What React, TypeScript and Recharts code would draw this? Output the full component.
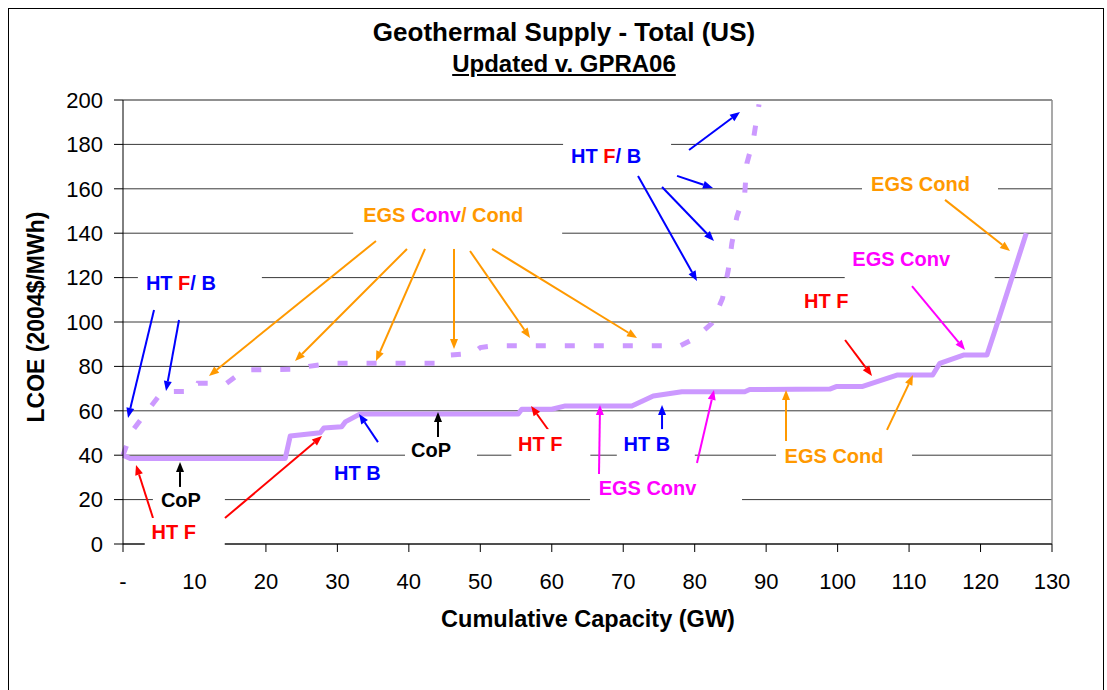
import React from 'react';
import {
  CartesianGrid,
  Line,
  LineChart,
  ReferenceDot,
  ReferenceLine,
  XAxis,
  YAxis,
} from 'recharts';

// Updated supply curve (solid)
const updatedCapacity = [0, 1, 22.7, 23.4, 27.6, 28.1, 30.6, 31.1, 33.2, 55.3, 55.8, 60.0, 61.9, 71.2, 74.2, 78.2, 87.0, 87.7, 98.9, 99.8, 103.4, 108.3, 113.3, 114.3, 117.6, 120.9, 121.9, 126.4];
const updatedLcoe = [40, 38.5, 38.5, 48.6, 50.1, 52.2, 52.8, 55, 58.6, 58.6, 60.7, 60.7, 62.2, 62.2, 66.7, 68.6, 68.6, 69.6, 69.8, 70.9, 70.9, 76.1, 76.1, 81.4, 85.1, 85.1, 94.9, 140];

// GPRA06 supply curve (dashed)
const gpraCapacity = [0, 1.2, 3.8, 5.5, 10, 10.5, 14.5, 17, 25, 26, 29, 44, 45.5, 49, 50, 52, 78, 80, 82.4, 83.9, 84.7, 85.2, 85.9, 87.0, 87.3, 88.2, 89.0];
const gpraLcoe = [40, 50.5, 61.6, 68.6, 68.8, 72.4, 72.4, 78.4, 78.8, 80, 81.4, 81.4, 85, 86, 88.5, 89.3, 89.3, 92.6, 99.4, 110.7, 123.4, 135.4, 147.4, 157.9, 171.4, 182, 198];

const xTicks = [0, 10, 20, 30, 40, 50, 60, 70, 80, 90, 100, 110, 120, 130];
const yTicks = [0, 20, 40, 60, 80, 100, 120, 140, 160, 180, 200];

const updatedData = updatedCapacity.map((gw, i) => ({ gw, lcoe: updatedLcoe[i] }));
const gpraData = gpraCapacity.map((gw, i) => ({ gw, lcoe: gpraLcoe[i] }));

const BLUE = '#0000FF';
const RED = '#FF0000';
const ORANGE = '#FF9900';
const MAGENTA = '#FF00FF';
const BLACK = '#000000';
const LAVENDER = '#CC99FF';

type Part = [string, string];
// callout text, anchored in chart units; box = [w, h, dx, dy] in px
const callouts: { x: number; y: number; parts: Part[]; box: number[] }[] = [
  { x: 8.1, y: 117.6, parts: [['HT ', BLUE], ['F', RED], ['/ B', BLUE]], box: [124, 26, 19, 0] },
  { x: 44.8, y: 148.2, parts: [['EGS ', ORANGE], ['Conv', MAGENTA], ['/ Cond', ORANGE]], box: [209, 38, 14.5, 3] },
  { x: 67.6, y: 174.8, parts: [['HT ', BLUE], ['F', RED], ['/ B', BLUE]], box: [108, 32, 11, 0] },
  { x: 111.6, y: 162.2, parts: [['EGS Cond', ORANGE]], box: [136, 26, 9.5, 0] },
  { x: 108.9, y: 128.4, parts: [['EGS Conv', MAGENTA]], box: [150, 30, 18.5, 7] },
  { x: 98.4, y: 109.5, parts: [['HT F', RED]], box: [60, 26, 0, 0] },
  { x: 99.5, y: 39.6, parts: [['EGS Cond', ORANGE]], box: [136, 26, 10, 0] },
  { x: 73.3, y: 45, parts: [['HT B', BLUE]], box: [78, 30, 9, 0] },
  { x: 58.4, y: 45, parts: [['HT F', RED]], box: [79, 30, 10.5, 0] },
  { x: 73.4, y: 25.2, parts: [['EGS Conv', MAGENTA]], box: [152, 30, 18.5, 1] },
  { x: 43.1, y: 42.3, parts: [['CoP', BLACK]], box: [72, 26, 10, 0] },
  { x: 32.8, y: 32, parts: [['HT B', BLUE]], box: [60, 24, 0, 0] },
  { x: 8.1, y: 19.8, parts: [['CoP', BLACK]], box: [72, 26, 8, 0] },
  { x: 7.1, y: 5.4, parts: [['HT F', RED]], box: [80, 34, 11, 3] },
];

const arrows: { from: number[]; to: number[]; color: string }[] = [
  { from: [4.34, 105.4], to: [0.7, 56.8], color: BLUE },
  { from: [7.84, 100.9], to: [6.02, 68.9], color: BLUE },
  { from: [35.4, 136.5], to: [12.03, 75.7], color: ORANGE },
  { from: [39.74, 132.9], to: [24.07, 82.4], color: ORANGE },
  { from: [42.26, 132.9], to: [35.4, 82.4], color: ORANGE },
  { from: [46.32, 132.9], to: [46.32, 87.8], color: ORANGE },
  { from: [48.56, 132.0], to: [56.96, 92.8], color: ORANGE },
  { from: [51.64, 132.9], to: [71.93, 92.8], color: ORANGE },
  { from: [79.21, 177.5], to: [86.34, 194.6], color: BLUE },
  { from: [77.53, 165.8], to: [82.56, 160.4], color: BLUE },
  { from: [75.43, 160.8], to: [82.7, 136.5], color: BLUE },
  { from: [72.07, 165.8], to: [80.32, 118.5], color: BLUE },
  { from: [115.03, 155.0], to: [124.13, 132.0], color: ORANGE },
  { from: [110.41, 116.2], to: [117.83, 87.4], color: MAGENTA },
  { from: [101.04, 91.9], to: [104.81, 75.7], color: RED },
  { from: [92.78, 46.4], to: [92.78, 69.4], color: ORANGE },
  { from: [106.91, 51.4], to: [110.55, 76.1], color: ORANGE },
  { from: [75.43, 51.4], to: [75.43, 62.6], color: BLUE },
  { from: [60.03, 49.1], to: [57.1, 62.2], color: RED },
  { from: [66.61, 31.5], to: [66.75, 62.6], color: MAGENTA },
  { from: [80.32, 36.5], to: [82.7, 69.4], color: MAGENTA },
  { from: [44.08, 48.2], to: [44.08, 59.5], color: BLACK },
  { from: [35.68, 45.9], to: [33.03, 58.6], color: BLUE },
  { from: [7.98, 25.7], to: [7.98, 36.9], color: BLACK },
  { from: [4.2, 11.7], to: [1.82, 35.6], color: RED },
  { from: [14.27, 11.7], to: [27.85, 48.6], color: RED },
];

const FONT = '"Liberation Sans", Arial, sans-serif';

const arrowShape = (color: string) => (p: any) => {
  const { x1, y1, x2, y2 } = p;
  const a = Math.atan2(y2 - y1, x2 - x1);
  const len = 10;
  const half = 4;
  const bx = x2 - len * Math.cos(a);
  const by = y2 - len * Math.sin(a);
  const pts = [
    `${x2},${y2}`,
    `${bx + half * Math.sin(a)},${by - half * Math.cos(a)}`,
    `${bx - half * Math.sin(a)},${by + half * Math.cos(a)}`,
  ].join(' ');
  return (
    <g>
      <line x1={x1} y1={y1} x2={bx} y2={by} stroke={color} strokeWidth={2} />
      <polygon points={pts} fill={color} />
    </g>
  );
};

const calloutShape = (parts: Part[], box: number[]) => (p: any) => {
  const { cx, cy } = p;
  const [w, h, dx, dy] = box;
  return (
    <g>
      <rect x={cx + dx - w / 2} y={cy + dy - h / 2} width={w} height={h} fill="#fff" />
      <text
        x={cx}
        y={cy}
        dy="0.36em"
        textAnchor="middle"
        fontFamily={FONT}
        fontSize={20}
        fontWeight="bold"
        style={{ whiteSpace: 'pre' }}
      >
        {parts.map(([t, c], i) => (
          <tspan key={i} fill={c}>
            {t}
          </tspan>
        ))}
      </text>
    </g>
  );
};

export default function App() {
  return (
    <div
      style={{
        position: 'absolute',
        left: 0,
        top: 0,
        width: 1107,
        height: 690,
        background: '#fff',
        overflow: 'hidden',
        fontFamily: FONT,
      }}
    >
      <div
        style={{
          position: 'absolute',
          left: 8,
          top: 8,
          width: 1094,
          height: 700,
          border: '1px solid #000',
        }}
      />
      <div
        style={{
          position: 'absolute',
          left: 0,
          width: 1128,
          top: 17,
          textAlign: 'center',
          fontSize: 26,
          fontWeight: 'bold',
          lineHeight: '31px',
        }}
      >
        Geothermal Supply - Total (US)
        <br />
        <span style={{ textDecoration: 'underline', fontSize: 24 }}>Updated v. GPRA06</span>
      </div>
      <div
        style={{
          position: 'absolute',
          left: 36,
          top: 317,
          transform: 'translate(-50%, -50%) rotate(-90deg)',
          whiteSpace: 'nowrap',
          fontSize: 23,
          fontWeight: 'bold',
        }}
      >
        LCOE (2004$/MWh)
      </div>
      <div
        style={{
          position: 'absolute',
          left: 588,
          top: 619,
          transform: 'translate(-50%, -50%)',
          whiteSpace: 'nowrap',
          fontSize: 23.5,
          fontWeight: 'bold',
        }}
      >
        Cumulative Capacity (GW)
      </div>
      <div style={{ position: 'absolute', left: 0, top: 0 }}>
        <LineChart
          width={1107}
          height={690}
          margin={{ top: 100, right: 55, bottom: 106, left: 0 }}
        >
          <CartesianGrid vertical={false} stroke="#3a3a3a" strokeWidth={1} />
          <XAxis
            dataKey="gw"
            type="number"
            domain={[0, 130]}
            ticks={xTicks}
            tickFormatter={(v: number) => (v === 0 ? '-' : String(v))}
            height={40}
            tickSize={8}
            tickMargin={21}
            stroke="#000"
            tick={{ fill: '#000', fontSize: 22 }}
            allowDuplicatedCategory={false}
          />
          <YAxis
            type="number"
            domain={[0, 200]}
            ticks={yTicks}
            width={123}
            tickSize={9}
            tickMargin={11}
            stroke="#000"
            tick={{ fill: '#000', fontSize: 22 }}
          />
          <ReferenceLine y={200} stroke="#8c8c8c" strokeWidth={1.5} />
          <ReferenceLine x={130} stroke="#8c8c8c" strokeWidth={1.5} />
          {callouts.map((c, i) => (
            <ReferenceDot
              key={`c${i}`}
              x={c.x}
              y={c.y}
              r={1}
              shape={calloutShape(c.parts, c.box)}
            />
          ))}
          <Line
            data={gpraData}
            dataKey="lcoe"
            type="linear"
            stroke={LAVENDER}
            strokeWidth={5}
            strokeDasharray="10 19"
            dot={false}
            isAnimationActive={false}
          />
          <Line
            data={updatedData}
            dataKey="lcoe"
            type="linear"
            stroke={LAVENDER}
            strokeWidth={5}
            strokeLinejoin="round"
            dot={false}
            isAnimationActive={false}
          />
          {arrows.map((a, i) => (
            <ReferenceLine
              key={`a${i}`}
              segment={[
                { x: a.from[0], y: a.from[1] },
                { x: a.to[0], y: a.to[1] },
              ]}
              stroke={a.color}
              shape={arrowShape(a.color)}
            />
          ))}
        </LineChart>
      </div>
    </div>
  );
}
